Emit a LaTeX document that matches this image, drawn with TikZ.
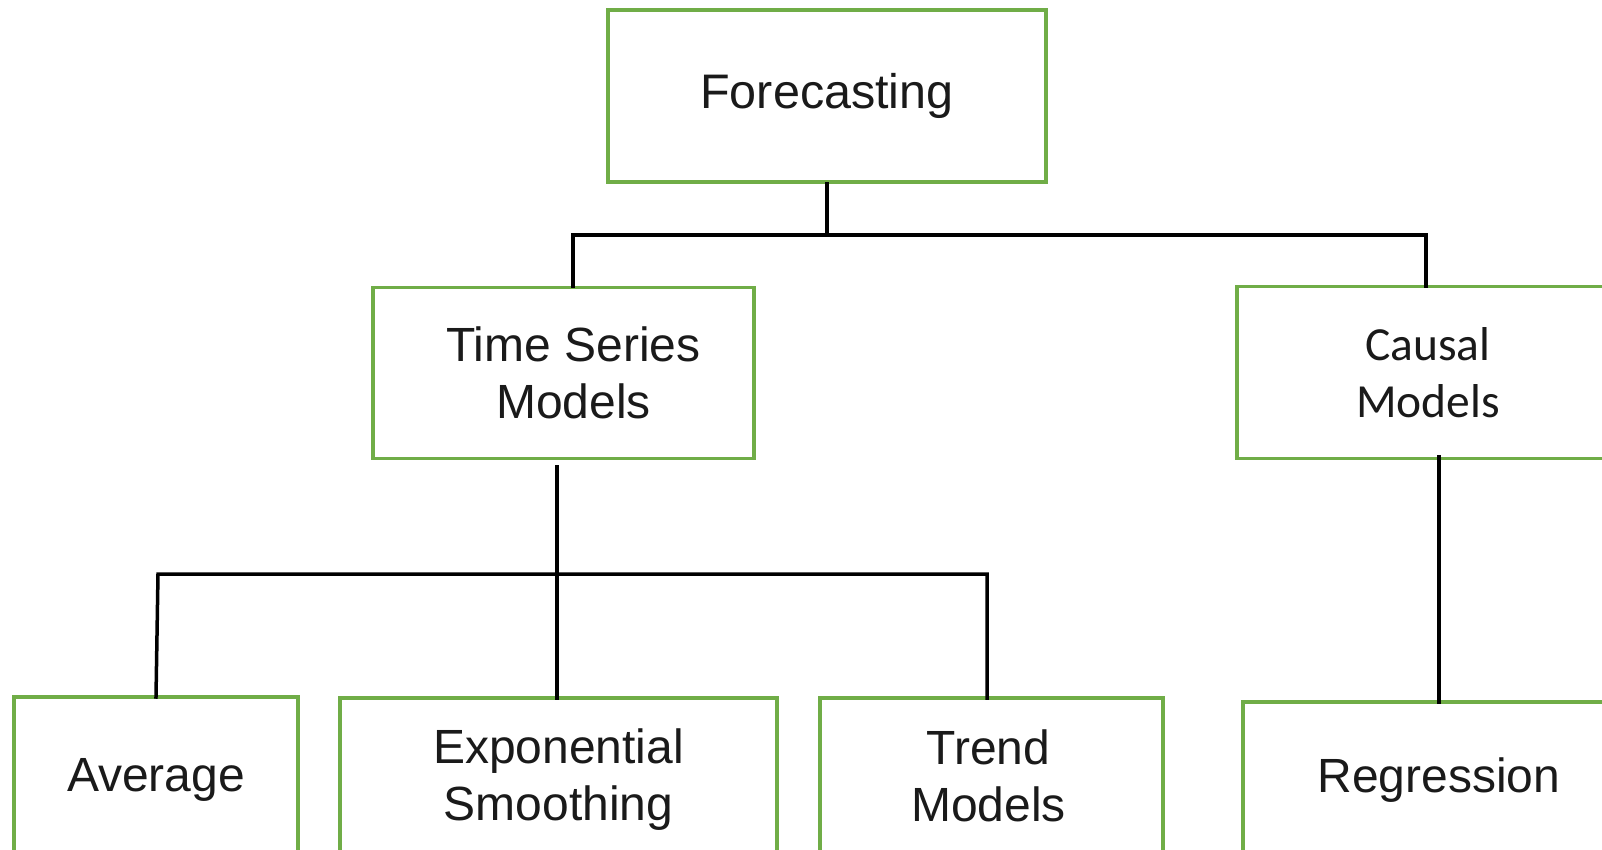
\documentclass[tikz,border=0pt]{standalone}
\usepackage{fontspec}
\setmainfont{Liberation Sans}
\newfontfamily\calib{Carlito}
\definecolor{boxgreen}{HTML}{70AD47}
\definecolor{txt}{HTML}{1A1A1A}
\begin{document}
\begin{tikzpicture}[x=1pt,y=1pt,
  box/.style={draw=boxgreen, line width=3.5pt, fill=white, rectangle, inner sep=0pt, align=center, text=txt,
    font=\fontsize{48}{57}\selectfont},
  conn/.style={draw=black, line width=3.5pt, line cap=rect}]
\useasboundingbox (0,0) rectangle (1602,849);
\clip (0,0) rectangle (1602,849);
\fill[white] (0,0) rectangle (1602,849);
% boxes
\node[box, minimum width=438pt, minimum height=172pt, font=\fontsize{48.5}{57}\selectfont] (fc) at (827,753) {Forecasting};
\node[box, minimum width=381pt, minimum height=171pt] (ts) at (563.5,476) {\hspace*{20pt}Time Series\\\hspace*{20pt}Models};
\node[box, minimum width=382pt, minimum height=172pt, font=\calib\fontsize{47.5}{57}\selectfont] (cm) at (1428,476.5) {Causal\\Models};
\node[box, minimum width=284pt, minimum height=166pt] (av) at (156,69) {Average};
\node[box, minimum width=437pt, minimum height=164pt] (ex) at (558.5,69) {Exponential\\Smoothing};
\node[box, minimum width=343pt, minimum height=156pt] (tr) at (991.5,73) {\hspace*{-6pt}Trend\\\hspace*{-6pt}Models};
\node[box, minimum width=392pt, minimum height=156pt] (rg) at (1439,69) {Regression};
% connector points
\coordinate (bus1) at (827,614);
\coordinate (tsin) at (573,563);
\coordinate (cmin) at (1426,563);
\coordinate (tsout) at (557,382);
\coordinate (exin) at (557,151);
\coordinate (bl) at (158,275);
\coordinate (br) at (987,275);
\coordinate (avin) at (156,152);
\coordinate (trin) at (987,151);
\coordinate (cmout) at (1439,392);
\coordinate (rgin) at (1439,147);
% connectors
\draw[conn] (fc.south) -- (bus1);
\draw[conn] (tsin) |- (bus1) -| (cmin);
\draw[conn] (tsout) -- (exin);
\draw[conn] (avin) -- (bl) -- (br) -- (trin);
\draw[conn] (cmout) -- (rgin);
\end{tikzpicture}
\end{document}
